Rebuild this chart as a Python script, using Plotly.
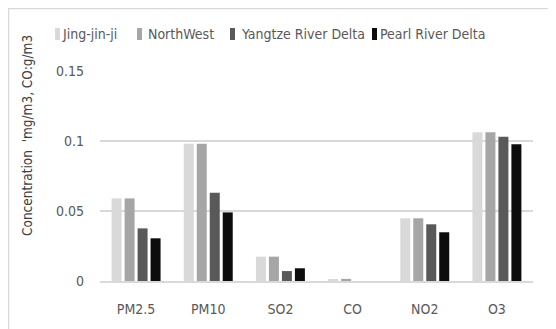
import plotly.graph_objects as go

categories = ["PM2.5", "PM10", "SO2", "CO", "NO2", "O3"]
series_names = ["Jing-jin-ji", "NorthWest", "Yangtze River Delta", "Pearl River Delta"]
jing_jin_ji = [0.059, 0.098, 0.0174, 0.0012, 0.0448, 0.1062]
north_west = [0.059, 0.098, 0.0174, 0.0015, 0.0448, 0.1062]
yangtze = [0.0376, 0.063, 0.0071, 0.0, 0.0405, 0.103]
pearl = [0.0305, 0.049, 0.0091, 0.0, 0.0348, 0.0976]
colors = ["#d9d9d9", "#a6a6a6", "#595959", "#0d0d0d"]
y_ticks = [0, 0.05, 0.1, 0.15]
y_tick_text = ["0", "0.05", "0.1", "0.15"]
y_title = "Concentration  'mg/m3, CO:g/m3"

FONT = "DejaVu Sans Condensed, DejaVu Sans, sans-serif"

# page body adds an 8px offset; figure sized to fit the window
OFF = 8
W, H = 556 - OFF, 329 - OFF
L, T = 100 - OFF, 71 - OFF
PW, PH = 433, 210
R, B = W - L - PW, H - T - PH


def px(x):
    return (x - OFF - L) / PW


def py(y):
    return (T + PH - (y - OFF)) / PH


fig = go.Figure()
for name, vals, col in zip(series_names, [jing_jin_ji, north_west, yangtze, pearl], colors):
    fig.add_trace(go.Bar(name=name, x=categories, y=vals,
                         marker=dict(color=col, line=dict(width=0)), showlegend=False))

fig.update_layout(
    width=W, height=H,
    margin=dict(l=L, r=R, t=T, b=B, autoexpand=False),
    paper_bgcolor="white", plot_bgcolor="white",
    barmode="group", bargap=0.28, bargroupgap=0.23,
    font=dict(family=FONT, color="#595959", size=14),
    showlegend=False,
)
fig.update_xaxes(showline=True, linecolor="#d9d9d9", linewidth=1.5, ticks="",
                 ticklabelstandoff=14,
                 tickfont=dict(size=14, color="#595959"), showgrid=False)
fig.update_yaxes(range=[0, 0.15], tickvals=y_ticks, ticktext=y_tick_text,
                 showgrid=True, gridcolor="#d9d9d9", gridwidth=1.5, zeroline=False,
                 showline=False, ticks="", ticklabelstandoff=15,
                 tickfont=dict(size=14, color="#595959"))

# custom legend (boxes + real text)
box_x = [55, 137, 230, 372]
text_x = [60, 146, 239, 378]
for name, col, bx, tx in zip(series_names, colors, box_x, text_x):
    fig.add_shape(type="rect", xref="paper", yref="paper",
                  x0=px(bx), x1=px(bx + 5), y0=py(40), y1=py(28),
                  fillcolor=col, line=dict(width=0))
    fig.add_annotation(text=name, xref="paper", yref="paper", x=px(tx), y=py(34),
                       xanchor="left", yanchor="middle", showarrow=False,
                       font=dict(size=14, color="#595959", family=FONT))

# y-axis title
fig.add_annotation(text=y_title, xref="paper", yref="paper", x=px(27), y=py(136),
                   xanchor="center", yanchor="middle", textangle=-90, showarrow=False,
                   font=dict(size=13.5, color="#404040", family=FONT))

# chart frame
fig.add_shape(type="rect", xref="paper", yref="paper", x0=px(8.5), x1=px(600), y0=py(360), y1=py(8.5),
              line=dict(color="#d9d9d9", width=1.5), fillcolor="rgba(0,0,0,0)", layer="below")
fig.write_html("out.html")
